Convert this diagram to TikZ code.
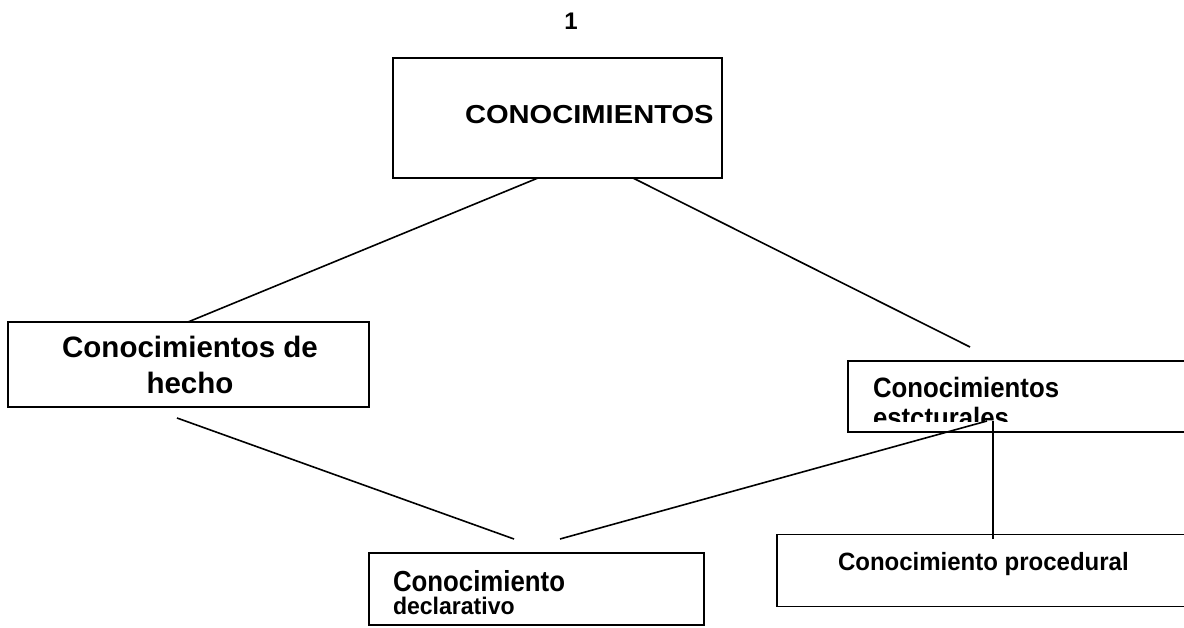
\documentclass[tikz,border=0pt]{standalone}
\usepackage{fontspec}
\usepackage{graphicx}
\setmainfont{Liberation Sans}
\begin{document}
\begin{tikzpicture}[x=1pt,y=-1pt,
  box/.style={draw=black,line width=1.6pt,inner sep=0pt,outer sep=0pt,fill=none},
  txt/.style={inner sep=0pt,outer sep=0pt,font=\bfseries},
  conn/.style={draw=black,line width=1.6pt}]
\clip (0,0) rectangle (1184,628);
\fill[white] (0,0) rectangle (1184,628);
% boxes
\node[box,minimum width=329pt,minimum height=120pt] (topbox) at (557.5,118) {};
\node[box,minimum width=361pt,minimum height=85pt] (leftbox) at (188.5,364.5) {};
\node[box,minimum width=342pt,minimum height=71pt] (rightbox) at (1019,396.5) {};
\node[box,minimum width=335pt,minimum height=72pt] (declbox) at (536.5,589) {};
\node[box,minimum width=413pt,minimum height=72pt] (procbox) at (983.5,570.5) {};
% texts
\node[txt,anchor=base] (num) at (571,30) {\fontsize{24}{28}\selectfont 1};
\node[txt,anchor=base west] (tconoc) at (465,124) {\scalebox{1.12}[1]{\fontsize{26}{30}\selectfont CONOCIMIENTOS}};
\node[txt,anchor=base] (th1) at (190,358) {\fontsize{29.5}{34}\selectfont Conocimientos de};
\node[txt,anchor=base] (th2) at (190,393) {\fontsize{29.5}{34}\selectfont hecho};
\node[txt,anchor=base west] (te1) at (873,398) {\scalebox{0.92}[1]{\fontsize{28}{32}\selectfont Conocimientos}};
\begin{scope}
\clip (849,362) rectangle (1184,421);
\node[txt,anchor=base west] (te2) at (873,427.5) {\scalebox{0.92}[1]{\fontsize{28}{32}\selectfont estcturales}};
\end{scope}
\node[txt,anchor=base west] (td1) at (393,591) {\scalebox{0.89}[1]{\fontsize{29}{33}\selectfont Conocimiento}};
\node[txt,anchor=base west] (td2) at (393,614) {\scalebox{0.96}[1]{\fontsize{24}{28}\selectfont declarativo}};
\node[txt,anchor=base west] (tp) at (838,570) {\scalebox{0.96}[1]{\fontsize{25}{29}\selectfont Conocimiento procedural}};
% connector end points
\coordinate (a1) at (538,178);
\coordinate (a2) at (188,322);
\coordinate (b1) at (633,178);
\coordinate (b2) at (970,347);
\coordinate (c1) at (177,418);
\coordinate (c2) at (514,539);
\coordinate (d1) at (560,539);
\coordinate (d2) at (987,421);
\coordinate (e1) at (993,421);
\coordinate (e2) at (993,539);
\draw[conn] (a1) -- (a2);
\draw[conn] (b1) -- (b2);
\draw[conn] (c1) -- (c2);
\draw[conn] (d1) -- (d2);
\draw[conn] (e1) -- (e2);
\end{tikzpicture}
\end{document}
